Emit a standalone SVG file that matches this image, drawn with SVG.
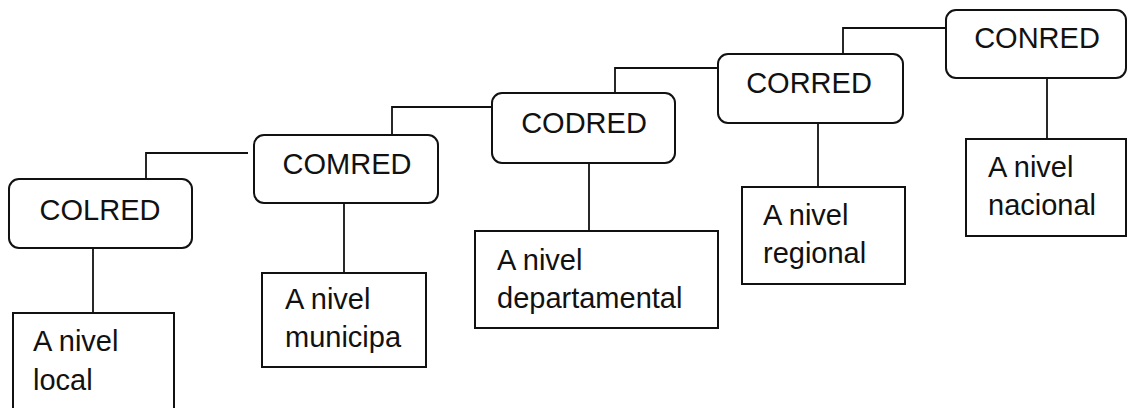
<svg xmlns="http://www.w3.org/2000/svg" width="1128" height="408" viewBox="0 0 1128 408">
<style>
.org{fill:#fff;stroke:#111;stroke-width:2}
.lvl{fill:#fff;stroke:#111;stroke-width:2}
.c{fill:none;stroke:#111;stroke-width:1.8}
text{font-family:"Liberation Sans",Arial,sans-serif;font-size:29px;fill:#111}
.m{text-anchor:middle}
</style>
<rect width="1128" height="408" fill="#fff"/>
<g id="connectors">
<path class="c" d="M146 179V153H248"/>
<path class="c" d="M392 135V107H492"/>
<path class="c" d="M615 93V68H718"/>
<path class="c" d="M843 54V28H946"/>
<path class="c" d="M93 248V313"/>
<path class="c" d="M344 203V273"/>
<path class="c" d="M589 163V231"/>
<path class="c" d="M818 123V187"/>
<path class="c" d="M1047 78V139"/>
</g>
<g id="colred"><rect class="org" x="9" y="179" width="183" height="69" rx="10"/><text class="m" x="100" y="220">COLRED</text></g>
<g id="comred"><rect class="org" x="254" y="135" width="184" height="68" rx="10"/><text class="m" x="347" y="174">COMRED</text></g>
<g id="codred"><rect class="org" x="492" y="93" width="183" height="70" rx="10"/><text class="m" x="584" y="133">CODRED</text></g>
<g id="corred"><rect class="org" x="718" y="54" width="185" height="69" rx="10"/><text class="m" x="809" y="93">CORRED</text></g>
<g id="conred"><rect class="org" x="946" y="10" width="180" height="68" rx="10"/><text class="m" x="1037" y="48">CONRED</text></g>
<g id="local"><rect class="lvl" x="13" y="313" width="161" height="100"/><text x="33" y="351">A nivel</text><text x="33" y="390">local</text></g>
<g id="municipal"><rect class="lvl" x="262" y="273" width="164" height="94"/><text x="285" y="309">A nivel</text><text x="285" y="347">municipa</text></g>
<g id="departamental"><rect class="lvl" x="475" y="231" width="243" height="97"/><text x="497" y="270">A nivel</text><text x="497" y="308">departamental</text></g>
<g id="regional"><rect class="lvl" x="742" y="187" width="163" height="97"/><text x="763" y="225">A nivel</text><text x="763" y="263">regional</text></g>
<g id="nacional"><rect class="lvl" x="966" y="139" width="160" height="97"/><text x="988" y="177">A nivel</text><text x="988" y="215">nacional</text></g>
</svg>
